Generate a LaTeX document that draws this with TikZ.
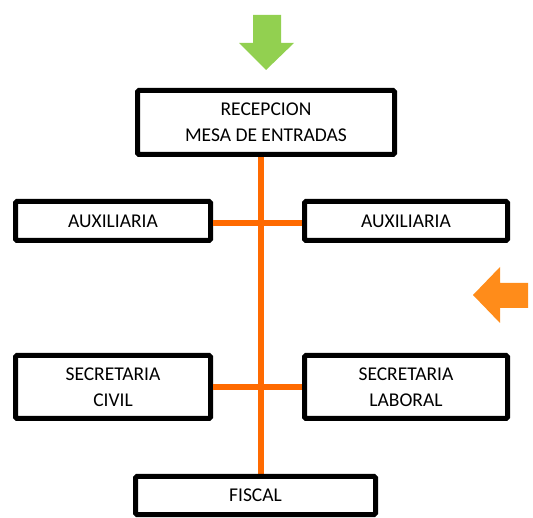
\documentclass[tikz,border=0pt]{standalone}
\usepackage{fontspec}
\setmainfont{Carlito}
\definecolor{verde}{HTML}{92D050}
\definecolor{naranja}{HTML}{FF8C1A}
\definecolor{linea}{HTML}{FF6A00}
\tikzset{
    caja/.style={draw=black, line width=5pt, rounded corners=1.5pt, fill=white,
        inner sep=0pt, align=center, font=\fontsize{19.5}{26}\selectfont},
    union/.style={draw=linea, line width=6pt}
}
\begin{document}
\begin{tikzpicture}[x=1pt,y=-1pt]
                \useasboundingbox (0,0) rectangle (533,518);

                % flechas
                \fill[verde] (253,15) -- (281,15) -- (281,43) -- (294,43) -- (266,70) -- (239,43) -- (253,43) -- cycle;
                \fill[naranja] (528,283) -- (500,283) -- (500,267) -- (473,295) -- (500,323) -- (500,308) -- (528,308) -- cycle;

                % lineas
                \coordinate (arriba) at (261,157);
                \coordinate (abajo) at (261,474);
                \draw[union] (arriba) -- (abajo);

                \node[caja, minimum width=257pt, minimum height=64pt] (recepcion) at (266,122.5) {RECEPCION\\MESA DE ENTRADAS};
                \node[caja, minimum width=195pt, minimum height=39pt] (aux1) at (113,221) {AUXILIARIA};
                \node[caja, minimum width=203pt, minimum height=39pt] (aux2) at (406,221) {AUXILIARIA};
                \node[caja, minimum width=195pt, minimum height=63pt] (civil) at (113,387) {SECRETARIA\\CIVIL};
                \node[caja, minimum width=203pt, minimum height=63pt] (laboral) at (406,387) {SECRETARIA\\LABORAL};
                \node[caja, minimum width=240pt, minimum height=38pt] (fiscal) at (255.5,495.5) {FISCAL};

                \draw[union] ([yshift=-2.5pt]aux1.east) -- ([yshift=-2.5pt]aux2.west);
                \draw[union] (civil.east) -- (laboral.west);
\end{tikzpicture}
\end{document}
